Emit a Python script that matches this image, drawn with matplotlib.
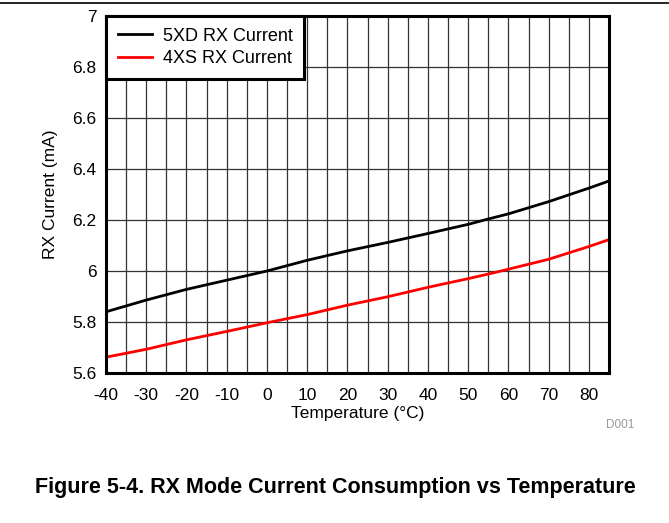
import matplotlib
matplotlib.use("Agg")
import matplotlib.pyplot as plt
from matplotlib.lines import Line2D
from matplotlib.ticker import MultipleLocator

plt.rcParams["font.family"] = ["Liberation Sans", "DejaVu Sans"]
plt.rcParams["axes.unicode_minus"] = False

temp = [-40, -30, -20, -10, 0, 10, 20, 30, 40, 50, 55, 60, 70, 80, 85]
rx_5xd = [5.840, 5.886, 5.928, 5.964, 6.000, 6.042, 6.079, 6.112, 6.147,
          6.183, 6.204, 6.224, 6.272, 6.325, 6.353]
rx_4xs = [5.662, 5.693, 5.730, 5.763, 5.797, 5.829, 5.866, 5.899, 5.936,
          5.970, 5.988, 6.007, 6.046, 6.096, 6.123]
xticks = list(range(-40, 81, 10))
yticks = [5.6, 5.8, 6.0, 6.2, 6.4, 6.6, 6.8, 7.0]
ytick_labels = ["5.6", "5.8", "6", "6.2", "6.4", "6.6", "6.8", "7"]

fig = plt.figure(figsize=(6.69, 5.23), dpi=100)
ax = fig.add_axes([106/669, 1 - 373/523, (609-106)/669, (373-16)/523])

ax.plot(temp, rx_5xd, color="black", lw=2, label="5XD RX Current")
ax.plot(temp, rx_4xs, color="#ff0000", lw=2, label="4XS RX Current")

ax.set_xlim(-40, 85)
ax.set_ylim(5.6, 7.0)
ax.set_xticks(xticks)
ax.xaxis.set_minor_locator(MultipleLocator(5))
ax.set_yticks(yticks)
ax.set_yticklabels(ytick_labels)
ax.grid(which="both", axis="x", color="#333333", lw=0.9)
ax.grid(which="major", axis="y", color="#333333", lw=0.9)
ax.set_axisbelow(True)
ax.tick_params(which="both", length=0, labelsize=12.5)
ax.tick_params(axis="x", pad=11)
ax.tick_params(axis="y", pad=7)
for s in ax.spines.values():
    s.set_linewidth(2.2)
    s.set_color("black")

ax.set_xlabel("Temperature (\u00b0C)", fontsize=12.5, labelpad=2)
ax.set_ylabel("RX Current (mA)", fontsize=12.5, labelpad=10)

leg = ax.legend(loc="upper left", fontsize=13, frameon=True, fancybox=False,
                borderaxespad=0, handlelength=1.9, borderpad=0.65,
                labelspacing=0.3, handletextpad=0.6)
leg.get_frame().set_edgecolor("black")
leg.get_frame().set_linewidth(2.2)
leg.get_frame().set_alpha(1)

fig.text(634/669, 1 - 425/523, "D001", color="#999999", fontsize=8.5,
         ha="right", va="center")
fig.text(335/669, 1 - 488/523, "Figure 5-4. RX Mode Current Consumption vs Temperature",
         fontsize=15.5, fontweight="bold", ha="center", va="center")
fig.add_artist(Line2D([0, 1], [1 - 3/523, 1 - 3/523], color="black", lw=1.2))

fig.savefig("out.png", dpi=100)
